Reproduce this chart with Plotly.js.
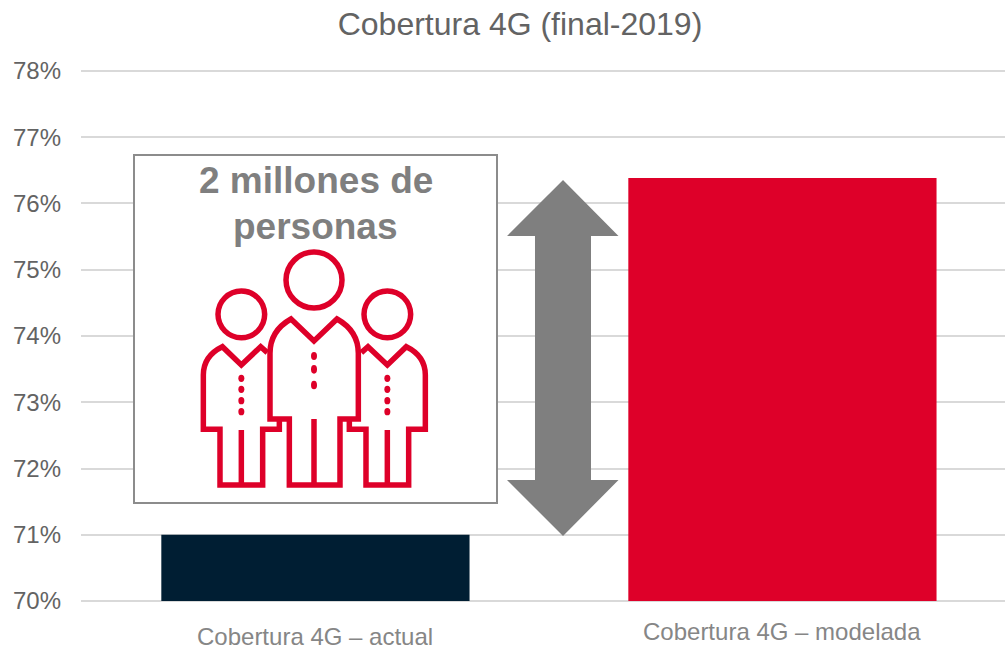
<!DOCTYPE html>
<html><head><meta charset="utf-8">
<script src="https://cdn.plot.ly/plotly-3.0.1.min.js"></script>
<style>html,body{margin:0;padding:0;background:#fff;overflow:hidden}</style>
</head><body><div id="chart" style="width:1005px;height:645px"></div>
<script>
const categories = ["Cobertura 4G – actual", "Cobertura 4G – modelada"];
const values = [71.0, 76.385];
const axisBase = 70;
const barColors = ["#001E33", "#DE0029"];
const labelY = [636, 631];
const chartTitle = "Cobertura 4G (final-2019)";
const calloutLines = ["2 millones de", "personas"];
const calloutY = [181, 226.5];

const W = 1005, H = 645, L = 81, T = 69, B = 42;
const px = x => (x - L) / (W - L);
const py = y => (H - B - y) / (H - B - T);
const RED = "#DE0029", GREY = "#7F7F7F";

// icon coordinates are in a 3x local grid anchored at (190,245)
const zx = x => px(190 + x / 3), zy = y => py(245 + y / 3);
function zpath(cmds) {
  return cmds.map(c => c[0] + c.slice(1).map((v, i) => (i % 2 ? zy(v) : zx(v)).toFixed(5)).join(" ")).join(" ");
}
const SW = 5.5;
const stroke = d => ({type: "path", xref: "paper", yref: "paper", layer: "above", path: d,
                      line: {color: RED, width: SW}, fillcolor: "rgba(0,0,0,0)"});
const circ = (cx, cy, rx, ry, filled) => ({type: "circle", xref: "paper", yref: "paper", layer: "above",
  x0: zx(cx - rx), x1: zx(cx + rx), y0: zy(cy - ry), y1: zy(cy + ry),
  line: {color: RED, width: filled ? 0 : SW}, fillcolor: filled ? RED : "rgba(0,0,0,0)"});

const mirror = x => 746 - x;
const leftBody = [["M",232,323],["L",212,305],["L",154,360],["L",97,305],["C",62,322,40,350,40,390],["L",40,553],["L",90,553],["L",90,720],["L",218,720],["L",218,553],["L",268,553],["L",268,522]];
const rightBody = leftBody.map(c => [c[0]].concat(c.slice(1).map((v, i) => i % 2 ? v : mirror(v))));

const shapes = [
  {type: "rect", xref: "paper", yref: "paper", layer: "above",
   x0: px(134), x1: px(497), y0: py(155), y1: py(503),
   line: {color: "#8C8C8C", width: 2}, fillcolor: "#FFFFFF"},
  {type: "path", xref: "paper", yref: "paper", layer: "above",
   path: "M" + [[563,180],[618.5,236],[591,236],[591,480],[618.5,480],[563,536],[507,480],[535,480],[535,236],[507,236]].map(p => px(p[0]).toFixed(5) + " " + py(p[1]).toFixed(5)).join(" L") + " Z",
   line: {width: 0}, fillcolor: GREY},
  circ(372, 105, 84, 84), circ(154, 208, 70, 70), circ(592, 208, 70, 70),
  stroke(zpath([["M",303,222],["L",372,288],["L",441,222],["C",482,245,505,280,505,325],["L",505,522],["L",450,522],["L",450,720],["L",298,720],["L",298,522],["L",240,522],["L",240,325],["C",240,280,262,245,303,222],["Z"]])),
  stroke(zpath(leftBody)), stroke(zpath(rightBody)),
  stroke(zpath([["M",372,522],["L",372,720]])),
  stroke(zpath([["M",154,555],["L",154,720]])),
  stroke(zpath([["M",592,555],["L",592,720]])),
  circ(372, 333, 9, 12, true), circ(372, 373, 9, 13, true), circ(372, 420, 9, 13, true),
  ...[400, 433, 467, 500].flatMap(y => [circ(154, y, 9, 11, true), circ(592, y, 9, 11, true)])
];

const annotations = [
  ...categories.map((c, i) => ({x: i, xref: "x", y: py(labelY[i]), yref: "paper", text: c, showarrow: false,
    xanchor: "center", yanchor: "middle", font: {family: "Liberation Sans", size: 24, color: "#868686"}})),
  ...calloutLines.map((t, i) => ({x: px(315.5), xref: "paper", y: py(calloutY[i]), yref: "paper", text: "<b>" + t + "</b>", showarrow: false,
   xanchor: "center", yanchor: "middle", font: {family: "Liberation Sans", size: 37, color: GREY}}))
];

Plotly.newPlot("chart", [{
  type: "bar", x: [0, 1], y: values.map(v => v - axisBase), base: axisBase, width: 0.66,
  marker: {color: barColors, line: {width: 0}}, hoverinfo: "skip"
}], {
  width: W, height: H, showlegend: false,
  paper_bgcolor: "#fff", plot_bgcolor: "#fff",
  margin: {l: L, r: 0, t: T, b: B, pad: 0},
  title: {text: chartTitle, x: 520 / W, xanchor: "center", y: 1 - 24 / H, yanchor: "middle",
          font: {family: "Liberation Sans", size: 32, color: "#636363"}},
  xaxis: {type: "linear", range: [-0.502, 1.4766], showticklabels: false, showgrid: false, zeroline: false, ticks: "", showline: false},
  yaxis: {range: [69.97, 78.03], tick0: 70, dtick: 1, ticksuffix: "%", showgrid: true, gridcolor: "#D9D9D9", gridwidth: 2,
          zeroline: false, showline: false, ticks: "", ticklabelstandoff: 19,
          tickfont: {family: "Liberation Sans", size: 24, color: "#636363"}},
  shapes, annotations
}, {displayModeBar: false, staticPlot: true});
</script></body></html>
